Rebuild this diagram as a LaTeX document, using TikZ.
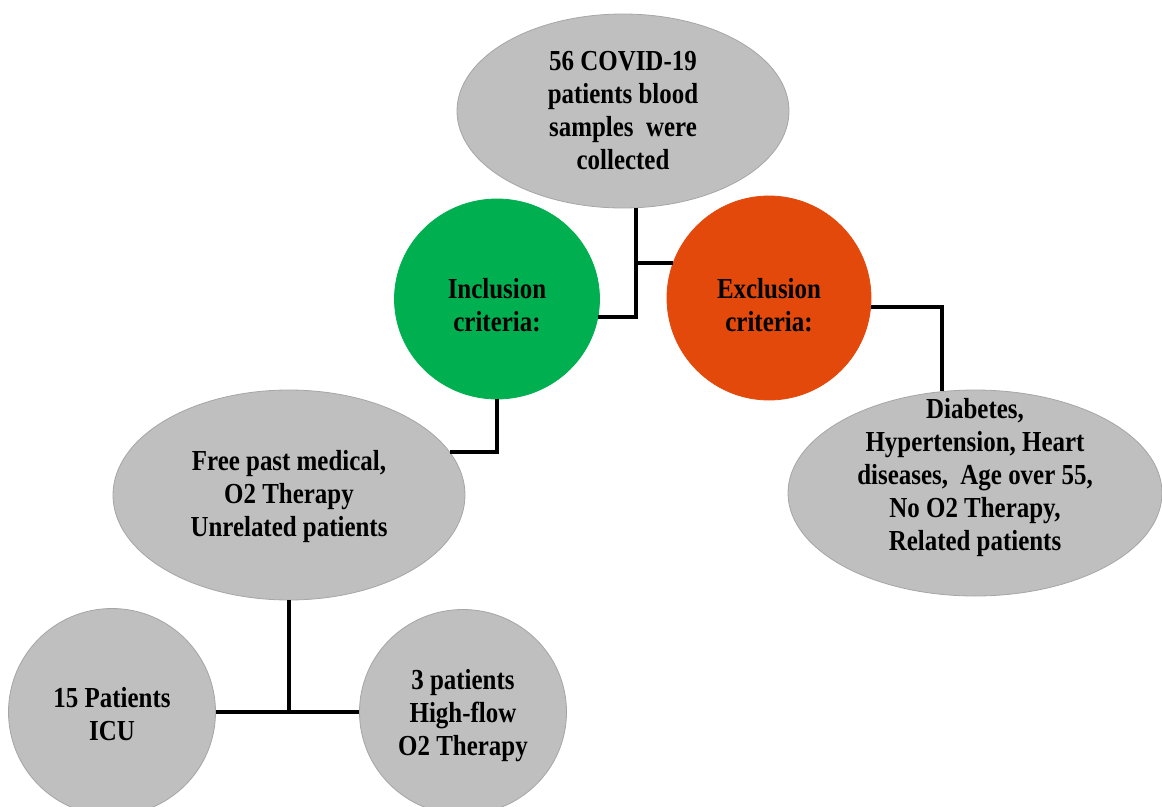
\documentclass[tikz,border=0pt]{standalone}
\usepackage{fontspec}
\setmainfont{Liberation Serif}[FakeStretch=0.86]
\usetikzlibrary{shapes.geometric, positioning}
\definecolor{bubgray}{HTML}{BFBFBF}
\definecolor{bubedge}{HTML}{A6A6A6}
\definecolor{inclgreen}{HTML}{00B050}
\definecolor{exclorange}{HTML}{E2490B}
\tikzset{
  bubshape/.style={ellipse, inner sep=0pt, fill=bubgray, draw=bubedge, line width=0.8pt},
  bubtext/.style={align=center, inner sep=0pt, font=\fontsize{29}{33}\selectfont\bfseries},
  link/.style={line width=4.2pt, black},
}
\newcommand{\bubble}[7]{%
  % #1=name, #2=centre, #3=width, #4=height, #5=shape style, #6=text, #7=text offset
  \node[bubshape, #5, minimum width=#3, minimum height=#4] (#1) at (#2) {};
  \node[bubtext] (#1-txt) at ([yshift=#7]#1.center) {#6};
}

\begin{document}
\begin{tikzpicture}[x=1pt, y=-1pt]
\useasboundingbox (0,0) rectangle (1162,806);
\clip (0,0) rectangle (1162,806);

% Samples
\bubble{samples}{623,111}{332pt}{194pt}{}%
  {56 COVID-19\\patients blood\\samples\ \ were\\collected}{0pt}

% Criteria
\bubble{incl}{497,299}{205pt}{200pt}{fill=inclgreen, draw=inclgreen}%
  {Inclusion\\criteria:}{-6pt}
\bubble{excl}{769,298}{204pt}{204pt}{fill=exclorange, draw=exclorange}%
  {Exclusion\\criteria:}{-7pt}

% Groups
\bubble{freepast}{289,495}{352pt}{210pt}{}%
  {Free past medical,\\O2 Therapy\\Unrelated patients}{-2pt}
\bubble{diabetes}{975,493}{374pt}{206pt}{}%
  {Diabetes,\\Hypertension, Heart\\diseases,\ \ Age over 55,\\No O2 Therapy,\\Related patients}{15pt}

% Outcomes
\bubble{icu}{112,712}{207pt}{207pt}{}%
  {15 Patients\\ICU}{-2pt}
\bubble{highflow}{463,712}{207pt}{205pt}{}%
  {3 patients\\High-flow\\O2 Therapy}{-4pt}

% Connectors
\coordinate (tap) at ([xshift=13pt]samples.south);
\draw[link] (tap) |- (incl.-10);
\draw[link] (tap |- excl.160) -- (excl.160);
\draw[link] (incl.south) |- (freepast.15);
\draw[link] (excl.-5) -| (diabetes.108);
\draw[link] (freepast.south) -- (freepast.south |- icu.east);
\draw[link] (icu.east) -- (highflow.west);

\end{tikzpicture}
\end{document}
